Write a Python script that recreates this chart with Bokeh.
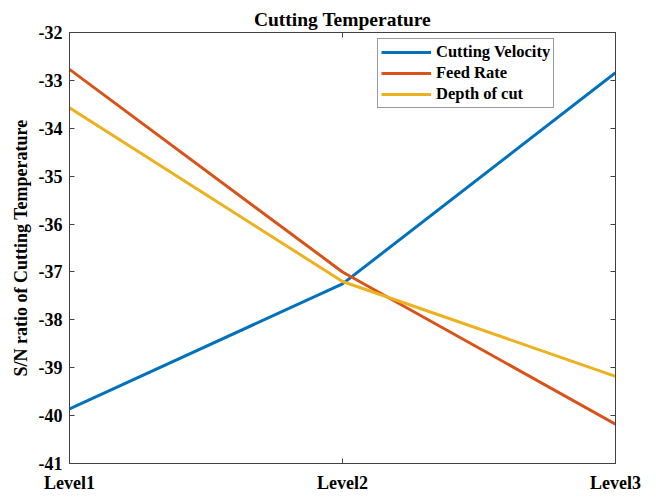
from bokeh.plotting import figure
from bokeh.models import LinearAxis, FixedTicker, Range1d, Legend, LegendItem
from bokeh.embed import file_html
from bokeh.resources import INLINE

# ---- data ----
levels = ["Level1", "Level2", "Level3"]
level_pos = [1, 2, 3]
cutting_velocity = [-39.86, -37.25, -32.84]
feed_rate = [-32.77, -37.0, -40.18]
depth_of_cut = [-33.57, -37.2, -39.18]
y_ticks = [-41, -40, -39, -38, -37, -36, -35, -34, -33, -32]
y_tick_labels = ["-41", "-40", "-39", "-38", "-37", "-36", "-35", "-34", "-33", "-32"]

FONT = "Liberation Serif"
AX = "#404040"

p = figure(width=656, height=503, output_backend="svg", toolbar_location=None,
           x_range=Range1d(1, 3), y_range=Range1d(-41, -32),
           min_border_left=69, min_border_right=41, min_border_top=32, min_border_bottom=40,
           x_axis_type=None, y_axis_type=None)
p.background_fill_color = "white"
p.border_fill_color = "white"
p.outline_line_color = AX
p.xgrid.visible = False
p.ygrid.visible = False

p.title.text = "Cutting Temperature"
p.title.text_font = FONT
p.title.text_font_size = "19.5px"
p.title.text_font_style = "bold"
p.title.text_color = "black"
p.title.align = "center"
p.title.standoff = 5
p.title.offset = 0

def style_axis(ax, show_labels=True):
    ax.axis_line_color = AX
    ax.major_tick_line_color = AX
    ax.major_tick_in = 5
    ax.major_tick_out = 0
    ax.minor_tick_line_color = None
    if show_labels:
        ax.major_label_text_font = FONT
        ax.major_label_text_font_size = "18px"
        ax.major_label_text_font_style = "bold"
        ax.major_label_text_color = "black"
    else:
        ax.major_label_text_font_size = "1px"
        ax.major_label_text_color = None
        ax.major_label_standoff = 0

xt = FixedTicker(ticks=level_pos)
yt = FixedTicker(ticks=y_ticks)

xb = LinearAxis(ticker=xt, major_label_overrides={k: v for k, v in zip(level_pos, levels)})
style_axis(xb)
xb.major_label_standoff = 9
p.add_layout(xb, "below")

yl = LinearAxis(ticker=yt, axis_label="S/N ratio of Cutting Temperature",
                major_label_overrides={k: v for k, v in zip(y_ticks, y_tick_labels)})
style_axis(yl)
yl.major_label_standoff = 7
yl.axis_label_text_font = FONT
yl.axis_label_text_font_size = "18px"
yl.axis_label_text_font_style = "bold"
yl.axis_label_text_color = "black"
yl.axis_label_standoff = 5
p.add_layout(yl, "left")

xa = LinearAxis(ticker=xt)
style_axis(xa, show_labels=False)
p.add_layout(xa, "above")

yr = LinearAxis(ticker=yt)
style_axis(yr, show_labels=False)
p.add_layout(yr, "right")

r1 = p.line(level_pos, cutting_velocity, line_color="#0072BD", line_width=3)
r2 = p.line(level_pos, feed_rate, line_color="#D95319", line_width=3)
r3 = p.line(level_pos, depth_of_cut, line_color="#EDB120", line_width=3)

legend = Legend(items=[LegendItem(label="Cutting Velocity", renderers=[r1]),
                       LegendItem(label="Feed Rate", renderers=[r2]),
                       LegendItem(label="Depth of cut", renderers=[r3])],
                location=(308, 355))
legend.label_text_font = FONT
legend.label_text_font_size = "16.5px"
legend.label_text_font_style = "bold"
legend.label_text_color = "black"
legend.glyph_width = 50
legend.glyph_height = 18
legend.label_height = 18
legend.label_standoff = 5
legend.spacing = 1
legend.padding = 3
legend.margin = 0
legend.border_line_color = "#333333"
legend.border_line_width = 1
legend.background_fill_alpha = 1
p.add_layout(legend, "center")

open("out.html", "w").write(file_html(p, INLINE))
